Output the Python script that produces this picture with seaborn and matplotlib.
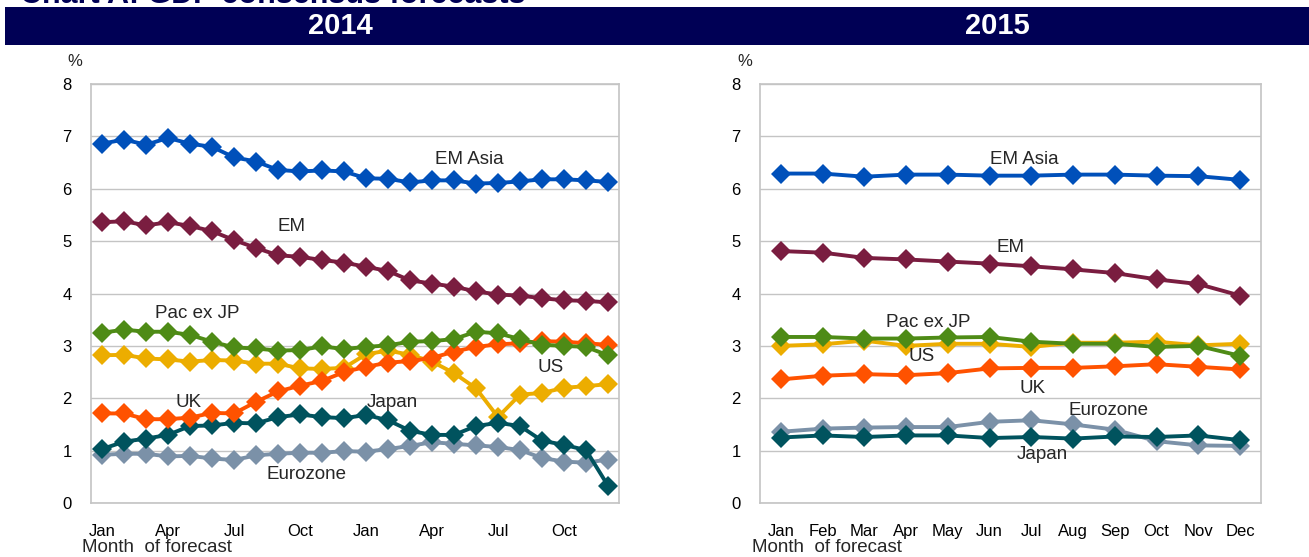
import pandas as pd
import matplotlib.pyplot as plt
import numpy as np
import seaborn as sns
from matplotlib.patches import Rectangle

sns.set_style("white")
plt.rcParams['font.family'] = ['Liberation Sans', 'DejaVu Sans']

# 2014 forecasts, monthly from Jan 2013 to Dec 2014
ticks_2014 = ['Jan', 'Apr', 'Jul', 'Oct', 'Jan', 'Apr', 'Jul', 'Oct']
em_asia_14 = [6.86, 6.94, 6.84, 6.97, 6.86, 6.80, 6.60, 6.52, 6.36, 6.33, 6.35, 6.33,
              6.20, 6.19, 6.12, 6.16, 6.16, 6.10, 6.11, 6.14, 6.18, 6.18, 6.16, 6.13]
em_14 = [5.36, 5.38, 5.30, 5.36, 5.29, 5.19, 5.02, 4.87, 4.73, 4.70, 4.64, 4.59,
         4.51, 4.43, 4.25, 4.19, 4.13, 4.04, 3.98, 3.96, 3.91, 3.87, 3.86, 3.83]
pac_14 = [3.25, 3.31, 3.27, 3.27, 3.21, 3.08, 2.97, 2.95, 2.91, 2.92, 2.99, 2.94,
          2.98, 3.01, 3.08, 3.09, 3.13, 3.27, 3.24, 3.13, 3.02, 3.00, 2.98, 2.82]
us_14 = [2.82, 2.83, 2.76, 2.74, 2.70, 2.73, 2.72, 2.66, 2.66, 2.57, 2.56, 2.58,
         2.84, 2.91, 2.83, 2.70, 2.48, 2.19, 1.64, 2.07, 2.10, 2.20, 2.23, 2.27]
uk_14 = [1.71, 1.71, 1.60, 1.60, 1.63, 1.72, 1.71, 1.93, 2.13, 2.24, 2.33, 2.50,
         2.60, 2.68, 2.71, 2.77, 2.89, 2.98, 3.03, 3.05, 3.09, 3.08, 3.05, 3.02]
japan_14 = [1.03, 1.17, 1.23, 1.30, 1.47, 1.48, 1.53, 1.52, 1.64, 1.69, 1.64, 1.62,
            1.68, 1.58, 1.38, 1.30, 1.30, 1.47, 1.53, 1.47, 1.19, 1.11, 1.01, 0.33]
euro_14 = [0.92, 0.94, 0.94, 0.89, 0.90, 0.85, 0.82, 0.91, 0.94, 0.96, 0.96, 0.99,
           0.98, 1.03, 1.09, 1.16, 1.13, 1.10, 1.07, 1.01, 0.86, 0.79, 0.77, 0.83]

# 2015 forecasts, monthly Jan-Dec 2014
ticks_2015 = ['Jan', 'Feb', 'Mar', 'Apr', 'May', 'Jun', 'Jul', 'Aug', 'Sep', 'Oct', 'Nov', 'Dec']
em_asia_15 = [6.29, 6.29, 6.23, 6.27, 6.27, 6.25, 6.25, 6.27, 6.27, 6.25, 6.24, 6.17]
em_15 = [4.81, 4.78, 4.68, 4.65, 4.61, 4.57, 4.52, 4.46, 4.39, 4.27, 4.18, 3.96]
pac_15 = [3.17, 3.17, 3.14, 3.14, 3.16, 3.17, 3.08, 3.04, 3.04, 2.98, 3.00, 2.81]
us_15 = [3.00, 3.03, 3.10, 3.00, 3.04, 3.04, 2.98, 3.06, 3.06, 3.08, 3.01, 3.04]
uk_15 = [2.36, 2.43, 2.46, 2.44, 2.48, 2.57, 2.58, 2.58, 2.61, 2.65, 2.60, 2.55]
japan_15 = [1.25, 1.29, 1.26, 1.29, 1.29, 1.24, 1.26, 1.23, 1.27, 1.26, 1.29, 1.20]
euro_15 = [1.36, 1.42, 1.44, 1.45, 1.45, 1.55, 1.58, 1.50, 1.40, 1.18, 1.10, 1.09]

colors = {'Eurozone': '#7b91a8', 'US': '#ecad00', 'Japan': '#00535e', 'UK': '#ff5200',
          'Pac ex JP': '#4e8b16', 'EM': '#7a1d40', 'EM Asia': '#0050ba'}
order = ['Eurozone', 'US', 'Japan', 'UK', 'Pac ex JP', 'EM', 'EM Asia']


def long_df(series):
    rows = []
    for name, vals in series.items():
        for i, v in enumerate(vals):
            rows.append({'month': i, 'series': name, 'value': v})
    return pd.DataFrame(rows)


df14 = long_df({'Eurozone': euro_14, 'US': us_14, 'Japan': japan_14, 'UK': uk_14,
                'Pac ex JP': pac_14, 'EM': em_14, 'EM Asia': em_asia_14})
df15 = long_df({'Eurozone': euro_15, 'US': us_15, 'Japan': japan_15, 'UK': uk_15,
                'Pac ex JP': pac_15, 'EM': em_15, 'EM Asia': em_asia_15})

fig = plt.figure(figsize=(13.09, 5.57), dpi=100)

# header bar (the chart title above it is cropped in the original too)
fig.patches.append(Rectangle((5 / 1309, 1 - 45 / 557), 1, 38 / 557, transform=fig.transFigure,
                             facecolor='#000055', edgecolor='none', zorder=0))
fig.text(20 / 1309, 1 - 3 / 557, 'Chart A: GDP consensus forecasts', fontsize=22,
         fontweight='bold', color='#000055', va='baseline', ha='left')
fig.text(340 / 1309, 1 - 26 / 557, '2014', color='white', fontsize=21, fontweight='bold',
         ha='center', va='center')
fig.text(997 / 1309, 1 - 26 / 557, '2015', color='white', fontsize=21, fontweight='bold',
         ha='center', va='center')

ax1 = fig.add_axes([91 / 1309, 1 - 503 / 557, 528 / 1309, 419 / 557])
ax2 = fig.add_axes([760 / 1309, 1 - 503 / 557, 501 / 1309, 419 / 557])

for ax, df, n, ticks, step in [(ax1, df14, 24, ticks_2014, 3), (ax2, df15, 12, ticks_2015, 1)]:
    sns.lineplot(data=df, x='month', y='value', hue='series', hue_order=order,
                 palette=colors, marker='D', markersize=10, markeredgewidth=0,
                 linewidth=2.8, legend=False, ax=ax)
    ax.set_xlim(-0.5, n - 0.5)
    ax.set_ylim(0, 8)
    ax.set_yticks(range(0, 9))
    ax.set_xticks(np.arange(0, n, step))
    ax.set_xticklabels(ticks)
    ax.set_xlabel('')
    ax.set_ylabel('')
    ax.grid(axis='y', color='#c4c4c4', linewidth=1)
    ax.set_axisbelow(True)
    for s in ax.spines.values():
        s.set_color('#c4c4c4')
        s.set_linewidth(1.2)
    ax.tick_params(axis='both', length=0, labelsize=12, colors='black')
    ax.tick_params(axis='x', pad=15)
    ax.tick_params(axis='y', pad=14)

fig.text(75 / 1309, 1 - 62 / 557, '%', fontsize=12, ha='center', va='center')
fig.text(745 / 1309, 1 - 62 / 557, '%', fontsize=12, ha='center', va='center')
fig.text(82 / 1309, 1 - 547 / 557, 'Month  of forecast', fontsize=13.5, ha='left', va='center')
fig.text(752 / 1309, 1 - 547 / 557, 'Month  of forecast', fontsize=13.5, ha='left', va='center')

labels14 = [('EM Asia', 16.7, 6.55), ('EM', 8.6, 5.28), ('Pac ex JP', 4.35, 3.61),
            ('UK', 3.95, 1.92), ('Japan', 13.2, 1.91), ('US', 20.4, 2.58),
            ('Eurozone', 9.3, 0.55)]
labels15 = [('EM Asia', 5.83, 6.56), ('EM', 5.49, 4.87), ('Pac ex JP', 3.53, 3.44),
            ('US', 3.38, 2.79), ('UK', 6.04, 2.19), ('Eurozone', 7.84, 1.77),
            ('Japan', 6.26, 0.92)]
for ax, labels in [(ax1, labels14), (ax2, labels15)]:
    for txt, x, y in labels:
        ax.text(x, y, txt, fontsize=13.5, ha='center', va='center')

fig.savefig('out.png', dpi=100)
